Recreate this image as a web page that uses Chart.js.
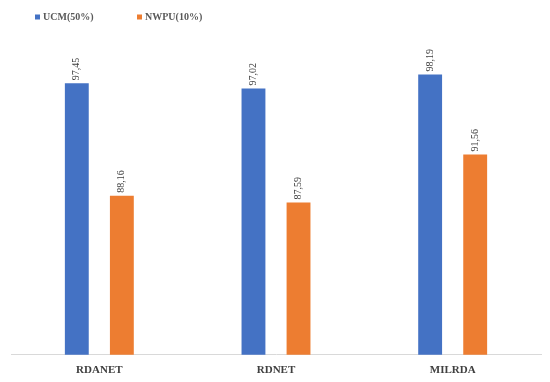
<!DOCTYPE html>
<html>
<head>
<meta charset="utf-8">
<script src="https://cdn.jsdelivr.net/npm/chart.js@4"></script>
<style>
  html, body { margin: 0; padding: 0; background: #fff; }
  #wrap { width: 550px; height: 382px; }
</style>
</head>
<body>
<div id="wrap"><canvas id="accChart"></canvas></div>
<script>
const categories = ['RDANET', 'RDNET', 'MILRDA'];
const ucmValues = [97.45, 97.02, 98.19];
const nwpuValues = [88.16, 87.59, 91.56];
const seriesNames = ['UCM(50%)', 'NWPU(10%)'];
const seriesColors = ['#4472c4', '#ed7d31'];

const serif = "'Liberation Serif', 'Times New Roman', serif";

// values written vertically just above each bar
const barLabels = {
    id: 'barLabels',
    afterDatasetsDraw(chart) {
        const ctx = chart.ctx;
        ctx.save();
        ctx.font = '10px ' + serif;
        ctx.fillStyle = '#404040';
        ctx.textAlign = 'left';
        ctx.textBaseline = 'middle';
        chart.data.datasets.forEach((ds, i) => {
            chart.getDatasetMeta(i).data.forEach((bar, j) => {
                const txt = ds.data[j].toFixed(2).replace('.', ',');
                ctx.save();
                ctx.translate(bar.x, bar.y - 3);
                ctx.rotate(-Math.PI / 2);
                ctx.fillText(txt, 0, 0);
                ctx.restore();
            });
        });
        ctx.restore();
    },
};

// small legend in the top left corner
const topLegend = {
    id: 'topLegend',
    afterDraw(chart) {
        const ctx = chart.ctx;
        const xs = [35, 137];
        const y = 17;
        ctx.save();
        ctx.font = 'bold 10px ' + serif;
        ctx.fillStyle = '#595959';
        ctx.textBaseline = 'middle';
        chart.data.datasets.forEach((ds, i) => {
            ctx.fillStyle = ds.backgroundColor;
            ctx.fillRect(xs[i], y - 2.5, 5, 5);
            ctx.fillStyle = '#595959';
            ctx.fillText(ds.label, xs[i] + 8, y + 0.5);
        });
        ctx.restore();
    },
};

const ctx = document.getElementById('accChart').getContext('2d');
new Chart(ctx, {
    type: 'bar',
    data: {
        labels: categories,
        datasets: [
            {
                label: seriesNames[0],
                data: ucmValues,
                backgroundColor: seriesColors[0],
                categoryPercentage: 0.51,
                barPercentage: 0.53,
            },
            {
                label: seriesNames[1],
                data: nwpuValues,
                backgroundColor: seriesColors[1],
                categoryPercentage: 0.51,
                barPercentage: 0.53,
            },
        ],
    },
    options: {
        responsive: true,
        maintainAspectRatio: false,
        animation: false,
        layout: {padding: {left: 11, right: 9, top: 52.5, bottom: 4}},
        plugins: {
            legend: {display: false},
            tooltip: {enabled: false},
        },
        scales: {
            x: {
                grid: {display: false},
                border: {display: true, color: '#d9d9d9'},
                ticks: {
                    color: '#404040',
                    font: {family: serif, size: 11, weight: 'bold'},
                    padding: 1,
                },
            },
            y: {
                display: false,
                min: 75,
                max: 100,
            },
        },
    },
    plugins: [barLabels, topLegend],
});
</script>
</body>
</html>
